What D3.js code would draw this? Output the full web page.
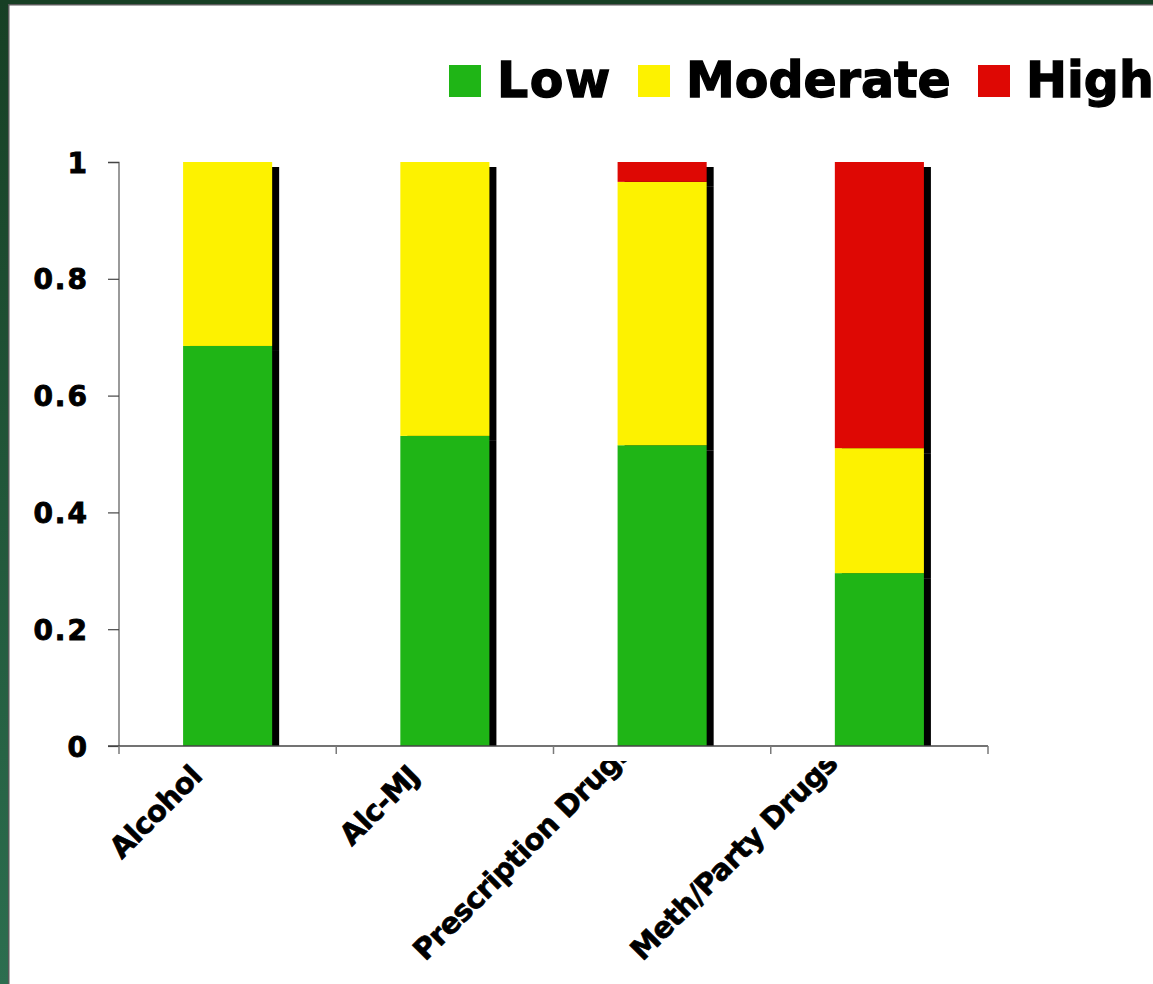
<!DOCTYPE html>
<html>
<head>
<meta charset="utf-8">
<script src="https://cdn.jsdelivr.net/npm/d3@7"></script>
<style>
  html, body { margin: 0; padding: 0; background: #fff; }
  svg { display: block; }
  text { font-family: "DejaVu Sans", Verdana, sans-serif; font-weight: bold; fill: #000; stroke: #000; }
</style>
</head>
<body>
<svg id="chart" width="1153" height="984"></svg>
<script>
// Risk-level shares by substance group
const categories = ["Alcohol", "Alc-MJ", "Prescription Drugs", "Meth/Party Drugs"];
const seriesNames = ["Low", "Moderate", "High"];
const lowValues = [0.685, 0.531, 0.515, 0.296];
const moderateValues = [0.315, 0.469, 0.451, 0.214];
const highValues = [0.0, 0.0, 0.034, 0.490];
const yTicks = [0, 0.2, 0.4, 0.6, 0.8, 1];
const colors = ["#1fb516", "#fdf200", "#de0804"];

const W = 1153, H = 984;
const svg = d3.select("#chart");

// Slide frame: green bands on the left and top edges
const defs = svg.append("defs");
const grad = defs.append("linearGradient").attr("id", "frameGrad")
  .attr("x1", 0).attr("y1", 0).attr("x2", 0).attr("y2", 1);
grad.append("stop").attr("offset", 0).attr("stop-color", "#173f24");
grad.append("stop").attr("offset", 1).attr("stop-color", "#2c6e4f");
svg.append("rect").attr("x", 0).attr("y", 0).attr("width", 8).attr("height", H).attr("fill", "url(#frameGrad)");
svg.append("rect").attr("x", 0).attr("y", 0).attr("width", W).attr("height", 4).attr("fill", "#173f24");
svg.append("rect").attr("x", 8).attr("y", 4).attr("width", 1.5).attr("height", H).attr("fill", "#5a5a5a");
svg.append("rect").attr("x", 8).attr("y", 4).attr("width", W).attr("height", 1.5).attr("fill", "#5a5a5a");

const margin = { left: 119, right: 988, top: 162, bottom: 746 };

const x = d3.scaleBand().domain(categories).range([margin.left, margin.right]).paddingInner(0.59).paddingOuter(0.295);
const y = d3.scaleLinear().domain([0, 1]).range([margin.bottom, margin.top]);

const rows = categories.map((c, i) => ({ cat: c, Low: lowValues[i], Moderate: moderateValues[i], High: highValues[i] }));
const stacked = d3.stack().keys(seriesNames)(rows);

// Clip shadows at the category axis
defs.append("clipPath").attr("id", "plotClip")
  .append("rect").attr("x", margin.left).attr("y", 0).attr("width", margin.right - margin.left + 20).attr("height", margin.bottom);

const shadowDx = 7, shadowDy = 5;
const shadowG = svg.append("g").attr("clip-path", "url(#plotClip)");
stacked.forEach(layer => {
  shadowG.selectAll(null).data(layer.filter(d => d[1] - d[0] > 0)).enter().append("rect")
    .attr("x", d => x(d.data.cat) + shadowDx)
    .attr("y", d => y(d[1]) + shadowDy)
    .attr("width", x.bandwidth())
    .attr("height", d => y(d[0]) - y(d[1]))
    .attr("fill", "#000");
});

const barG = svg.append("g");
stacked.forEach((layer, li) => {
  barG.selectAll(null).data(layer.filter(d => d[1] - d[0] > 0)).enter().append("rect")
    .attr("x", d => x(d.data.cat))
    .attr("y", d => y(d[1]))
    .attr("width", x.bandwidth())
    .attr("height", d => y(d[0]) - y(d[1]))
    .attr("fill", colors[li]);
});

// Value axis
const yAxis = svg.append("g").attr("transform", `translate(${margin.left},0)`)
  .call(d3.axisLeft(y).tickValues(yTicks).tickSize(11).tickPadding(19).tickFormat(d => d === 0 || d === 1 ? String(d) : d.toFixed(1)));
yAxis.select(".domain").attr("stroke", "#7a7a7a").attr("stroke-width", 1.5).attr("d", `M-11,${margin.top}.5H0V${margin.bottom}`);
yAxis.selectAll(".tick line").attr("stroke", "#444").attr("stroke-width", 1.2);
yAxis.selectAll(".tick text")
  .style("font-size", "28px").style("font-family", "'DejaVu Sans', sans-serif").style("font-weight", "bold")
  .attr("fill", "#000").attr("stroke", "#000").attr("stroke-width", 0.9)
  .attr("dy", "0.36em").style("letter-spacing", "2px");

// Category axis
const xTickPos = d3.range(categories.length + 1).map(i => margin.left + i * (margin.right - margin.left) / categories.length);
const xAxisG = svg.append("g");
xAxisG.append("line").attr("x1", margin.left - 11).attr("x2", margin.right).attr("y1", margin.bottom).attr("y2", margin.bottom)
  .attr("stroke", "#444").attr("stroke-width", 1.5);
xAxisG.selectAll(".xtick").data(xTickPos).enter().append("line")
  .attr("x1", d => d).attr("x2", d => d).attr("y1", margin.bottom).attr("y2", margin.bottom + 8)
  .attr("stroke", "#7a7a7a").attr("stroke-width", 1.5);

// Rotated category labels. Labels too long for the space below the axis start at the
// bottom of the chart area, sit one line lower, and are cut at the axis band.
defs.append("clipPath").attr("id", "labelClip")
  .append("rect").attr("x", 0).attr("y", 761).attr("width", W).attr("height", H - 761);
const labelG = svg.append("g").attr("clip-path", "url(#labelClip)");
const bottomLimit = 962;
categories.forEach(c => {
  const cx = x(c) + x.bandwidth() / 2;
  const t = labelG.append("text").text(c)
    .attr("text-anchor", "start")
    .attr("stroke-width", 0.7)
    .style("font-size", "29px")
    .style("letter-spacing", "-0.6px");
  const len = t.node().getComputedTextLength();
  const drop = len / Math.SQRT2;
  let sx = cx - 24 - drop, sy = 778 + drop;
  if (sy > bottomLimit) {
    sy = bottomLimit;
    sx = cx + 725 - bottomLimit;
  }
  t.attr("transform", `translate(${sx},${sy}) rotate(-45)`);
});

// Legend
const legend = svg.append("g");
const legendX = [449, 638, 978];
seriesNames.forEach((s, i) => {
  legend.append("rect").attr("x", legendX[i]).attr("y", 65).attr("width", 32).attr("height", 32).attr("fill", colors[i]);
  legend.append("text").attr("x", legendX[i] + 48).attr("y", 97).text(s)
    .attr("stroke-width", 1.3)
    .style("font-size", "49px").style("letter-spacing", i === 0 ? "1.5px" : "0px");
});
</script>
</body>
</html>
